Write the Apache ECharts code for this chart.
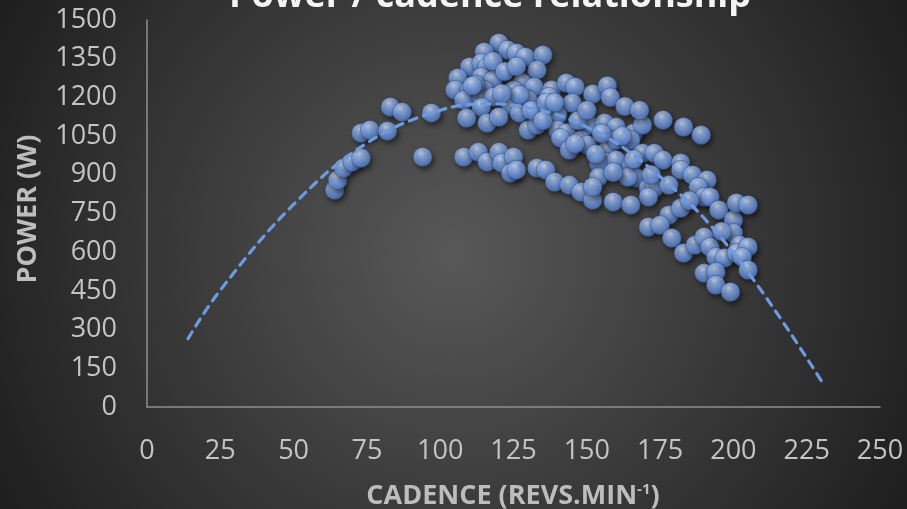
<!DOCTYPE html>
<html>
<head>
<meta charset="utf-8">
<script src="https://cdn.jsdelivr.net/npm/echarts@6/dist/echarts.min.js"></script>
<style>
html,body{margin:0;padding:0;background:#333;}
#c{width:907px;height:509px;}
</style>
</head>
<body>
<div id="c"></div>
<script>
// Scatter data: cadence (revs/min) and power (W)
const cadence = [
  64,65,67,70,73,73,76,82,83,87,97,94,
  120,115,123,126,129,135,110,114,116,120,133,106,114,118,128,105,110,115,125,132,138,143,146,
  108,114,118,124,130,137,141,145,114,109,116,120,127,133,140,130,140,143,
  133,151,156,160,166,169,176,183,189,152,157,158,163,168,
  141,148,150,144,157,160,165,169,173,176,182,182,186,191,188,190,192,195,200,201,205,
  157,154,160,165,167,164,154,171,173,171,178,182,
  108,113,116,120,121,125,124,126,133,136,139,144,148,152,152,159,165,171,175,
  179,183,187,190,192,194,197,190,194,194,199,200,202,201,205,203,205,
  112,118,122,127,131,136,121,126,111,135,139,147,150,155,162,146,153,159,166,172,178,185,196
];
const power = [
  841,880,926,950,965,1062,1074,1070,1163,1143,1140,969,
  1411,1376,1384,1372,1357,1364,1318,1333,1318,1295,1306,1275,1279,1267,1256,1229,1229,1229,1229,1240,1229,1256,1240,
  1190,1198,1202,1171,1190,1202,1163,1178,1163,1120,1101,1124,1140,1140,1132,1074,1074,1062,
  1093,1093,1101,1085,1062,1093,1112,1085,1054,1213,1245,1200,1165,1150,
  1043,1035,1016,996,996,1035,1035,984,984,957,946,919,899,880,853,814,814,764,725,791,783,
  950,946,957,930,888,891,891,849,849,814,744,771,
  969,988,950,988,946,969,907,919,926,919,872,860,833,802,853,795,783,698,705,
  655,597,628,659,620,581,578,519,523,473,446,674,628,597,620,581,531,
  1250,1340,1300,1210,1150,1180,1215,1320,1245,1110,1180,1110,1150,1060,1050,1020,980,910,960,900,860,800,680
];
// Trend line (polynomial)
const trendCadence = [14, 25, 50, 75, 100, 117, 125, 150, 175, 200, 230];
const trendPower   = [265, 453, 785, 1023, 1150, 1175, 1170, 1085, 893, 597, 101];

const xTicks = { min: 0, max: 250, interval: 25 };
const yTicks = { min: 0, max: 1500, interval: 150 };

const chart = echarts.init(document.getElementById('c'), null, {renderer: 'canvas'});
const pts = cadence.map((c, i) => [c, power[i]]);
const trend = trendCadence.map((c, i) => [c, trendPower[i]]);

const sphere = {
  type: 'radial', x: 0.42, y: 0.3, r: 0.75,
  colorStops: [
    {offset: 0, color: '#e6eefc'},
    {offset: 0.22, color: '#a6c2f3'},
    {offset: 0.55, color: '#779fe6'},
    {offset: 0.85, color: '#5882cf'},
    {offset: 1, color: '#42629f'}
  ]
};

chart.setOption({
  backgroundColor: {
    type: 'radial', x: 0.5, y: 0.5, r: 1.0,
    colorStops: [
      {offset: 0, color: '#585858'},
      {offset: 1, color: '#1f1f1f'}
    ]
  },
  animation: false,
  grid: { left: 147, right: 27, top: 20, bottom: 102, containLabel: false },
  xAxis: {
    type: 'value', min: xTicks.min, max: xTicks.max, interval: xTicks.interval,
    axisLine: { show: true, lineStyle: { color: '#8f8f8f', width: 1.5 } },
    axisTick: { show: false },
    splitLine: { show: false },
    axisLabel: { color: '#c4c4c4', fontFamily: 'Open Sans', fontSize: 27, margin: 31 }
  },
  yAxis: {
    type: 'value', min: yTicks.min, max: yTicks.max, interval: yTicks.interval,
    axisLine: { show: true, lineStyle: { color: '#8f8f8f', width: 1.5 } },
    axisTick: { show: false },
    splitLine: { show: false },
    axisLabel: { color: '#c4c4c4', fontFamily: 'Open Sans', fontSize: 27, margin: 30,
      formatter: v => String(v) }
  },
  graphic: [
    {
      type: 'text', x: 490, y: -3, z: 10,
      style: {
        text: 'Power / cadence relationship',
        font: 'bold 36px "Open Sans"', fill: '#f4f4f4',
        align: 'center', verticalAlign: 'middle',
        shadowBlur: 4, shadowColor: 'rgba(0,0,0,0.6)', shadowOffsetY: 2
      }
    },
    {
      type: 'text', x: 28, y: 209, rotation: Math.PI / 2, z: 10,
      style: {
        text: 'POWER (W)', font: 'bold 27px "Open Sans"', fill: '#bdbdbd',
        align: 'center', verticalAlign: 'middle'
      }
    },
    {
      type: 'text', x: 513, y: 494, z: 10,
      style: {
        text: '{a|CADENCE (REVS.MIN}{s|-1}{a|)}',
        align: 'center', verticalAlign: 'middle',
        rich: {
          a: { font: 'bold 27px "Open Sans"', fill: '#bdbdbd', color: '#bdbdbd', lineHeight: 32, verticalAlign: 'bottom' },
          s: { font: 'bold 15px "Open Sans"', fill: '#bdbdbd', color: '#bdbdbd', lineHeight: 32, verticalAlign: 'top', padding: [4, 0, 0, 0] }
        }
      }
    }
  ],
  series: [
    {
      type: 'scatter', data: pts, symbol: 'circle', symbolSize: 19, z: 2,
      itemStyle: {
        color: sphere, borderColor: 'rgba(55,70,100,0.7)', borderWidth: 0.8,
        shadowBlur: 5, shadowColor: 'rgba(0,0,0,0.6)', shadowOffsetX: 2, shadowOffsetY: 3
      }
    },
    {
      type: 'line', data: trend, smooth: 0.4, showSymbol: false, symbol: 'none', z: 5,
      lineStyle: { color: '#6e9ae2', width: 3.2, type: [8, 7], cap: 'round' }
    }
  ]
});
</script>
</body>
</html>
